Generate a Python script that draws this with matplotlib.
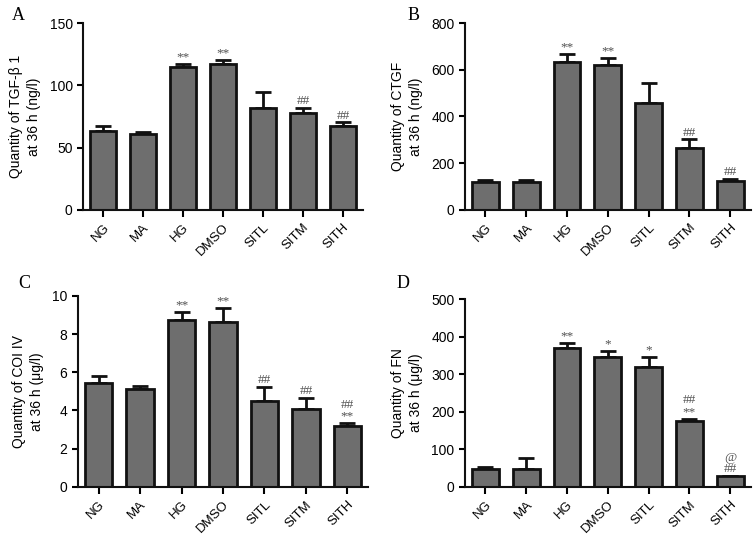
import matplotlib
matplotlib.use("Agg")
import matplotlib.pyplot as plt
import numpy as np

categories = ["NG", "MA", "HG", "DMSO", "SITL", "SITM", "SITH"]

tgf_values = [63.5, 60.8, 114.4, 117.3, 82.0, 77.7, 67.2]
tgf_errors = [4.0, 1.6, 2.6, 3.2, 13.0, 4.5, 3.0]
tgf_marks = ["", "", "**", "**", "", "##", "##"]

ctgf_values = [120, 121, 633, 619, 456, 266, 123]
ctgf_errors = [7, 6, 36, 30, 87, 37, 10]
ctgf_marks = ["", "", "**", "**", "", "##", "##"]

col_values = [5.44, 5.14, 8.74, 8.64, 4.49, 4.07, 3.18]
col_errors = [0.38, 0.14, 0.42, 0.71, 0.74, 0.60, 0.18]
col_marks = ["", "", "**", "**", "##", "##", "##\n**"]

fn_values = [47, 47, 370, 345, 318, 175, 28]
fn_errors = [5, 30, 14, 16, 28, 7, 2]
fn_marks = ["", "", "**", "*", "*", "##\n**", "@\n##"]

panels = [
    dict(letter="A", vals=tgf_values, errs=tgf_errors, marks=tgf_marks,
         ylim=150, yticks=[0, 50, 100, 150],
         ylabel="Quantity of TGF-β 1\nat 36 h (ng/l)",
         pos=[0.110, 0.610, 0.370, 0.347], letter_xy=(0.016, 0.972)),
    dict(letter="B", vals=ctgf_values, errs=ctgf_errors, marks=ctgf_marks,
         ylim=800, yticks=[0, 200, 400, 600, 800],
         ylabel="Quantity of CTGF\nat 36 h (ng/l)",
         pos=[0.615, 0.610, 0.378, 0.347], letter_xy=(0.539, 0.972)),
    dict(letter="C", vals=col_values, errs=col_errors, marks=col_marks,
         ylim=10, yticks=[0, 2, 4, 6, 8, 10],
         ylabel="Quantity of COI IV\nat 36 h (μg/l)",
         pos=[0.103, 0.095, 0.384, 0.355], letter_xy=(0.024, 0.473)),
    dict(letter="D", vals=fn_values, errs=fn_errors, marks=fn_marks,
         ylim=500, yticks=[0, 100, 200, 300, 400, 500],
         ylabel="Quantity of FN\nat 36 h (μg/l)",
         pos=[0.615, 0.095, 0.378, 0.349], letter_xy=(0.524, 0.473)),
]

fig = plt.figure(figsize=(7.56, 5.38), dpi=100)
plt.rcParams['font.family'] = ['Liberation Sans', 'DejaVu Sans']

x = np.arange(len(categories))
for p in panels:
    ax = fig.add_axes(p["pos"])
    vals = np.array(p["vals"], dtype=float)
    errs = np.array(p["errs"], dtype=float)
    ax.bar(x, vals, width=0.66, color="#6e6e6e", edgecolor="#111111",
           linewidth=2.0, zorder=2)
    ax.errorbar(x, vals, yerr=[np.zeros_like(errs), errs], fmt="none",
                ecolor="#111111", elinewidth=2.0, capsize=6, capthick=2.0,
                zorder=1)
    ax.set_xlim(-0.5, len(categories) - 0.5)
    ax.set_ylim(0, p["ylim"])
    ax.set_yticks(p["yticks"])
    ax.set_xticks(x)
    ax.set_xticklabels(categories, rotation=45, ha="right",
                       rotation_mode="anchor", fontsize=9.5)
    ax.tick_params(axis="y", labelsize=10, width=1.5, length=4, direction="out")
    ax.tick_params(axis="x", width=1.5, length=5, direction="out")
    for s in ["top", "right"]:
        ax.spines[s].set_visible(False)
    for s in ["left", "bottom"]:
        ax.spines[s].set_linewidth(1.5)
        ax.spines[s].set_color("#111111")
    ax.set_ylabel(p["ylabel"], fontsize=10, linespacing=1.35, labelpad=6)
    for xi, v, e, m in zip(x, vals, errs, p["marks"]):
        if m:
            ax.text(xi, v + e + p["ylim"] * 0.003, m, ha="center", va="bottom",
                    fontsize=9.5, color="#505050", family="Liberation Serif",
                    linespacing=0.95)
    fig.text(p["letter_xy"][0], p["letter_xy"][1], p["letter"],
             fontsize=13, family="Liberation Serif", ha="left", va="center")

fig.savefig("out.png", dpi=100)
